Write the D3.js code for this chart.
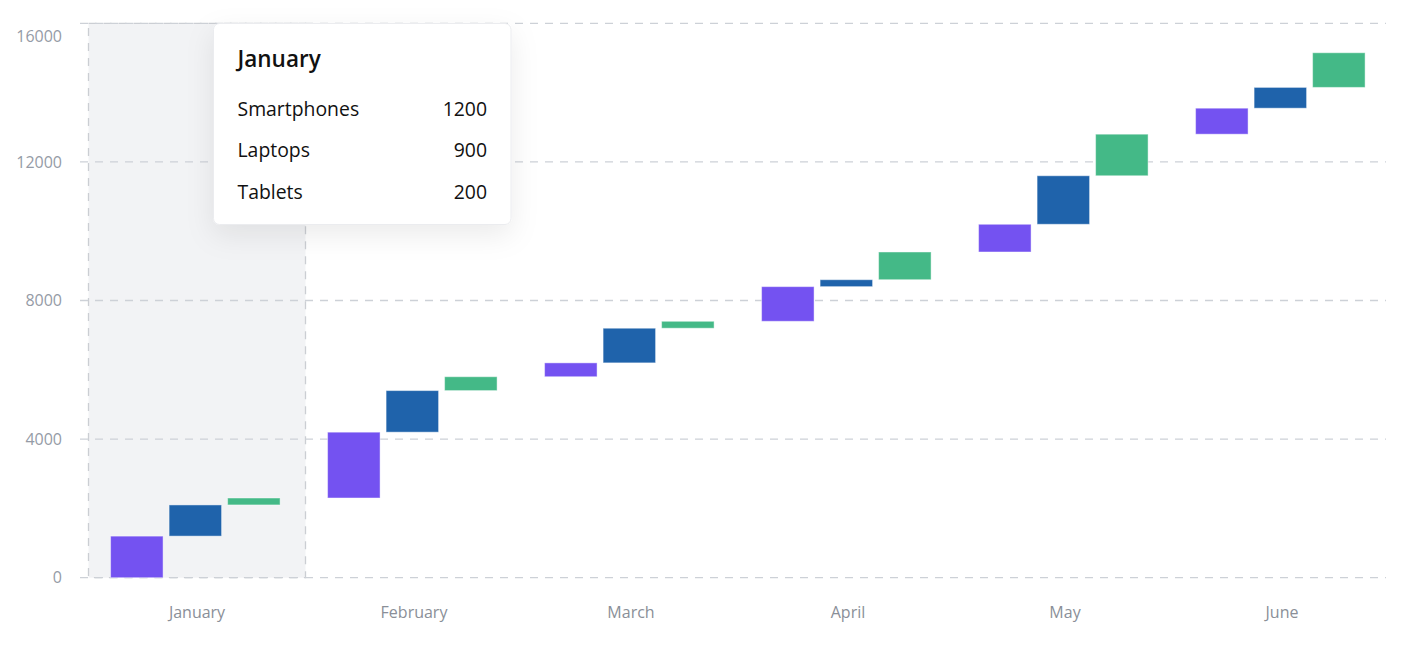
<!DOCTYPE html>
<html>
<head>
<meta charset="utf-8">
<script src="https://cdn.jsdelivr.net/npm/d3@7/dist/d3.min.js"></script>
<style>
  html, body { margin: 0; padding: 0; background: #fff; }
  svg { display: block; font-family: "Open Sans", "Noto Sans", sans-serif; }
</style>
</head>
<body>
<svg id="chart" width="1403" height="648"></svg>
<script>
// ---- data ----
const categories = ["January", "February", "March", "April", "May", "June"];
const seriesNames = ["Smartphones", "Laptops", "Tablets"];
const smartphones = [1200, 1900, 400, 1000, 800, 750];
const laptops = [900, 1200, 1000, 200, 1400, 600];
const tablets = [200, 400, 200, 800, 1200, 1000];
const yTicks = [0, 4000, 8000, 12000, 16000];
const colors = ["#7452F1", "#1F63AB", "#44B987"];
const tooltipMonth = "January";

// ---- build waterfall segments ----
const seriesValues = [smartphones, laptops, tablets];
const segments = [];
let running = 0;
categories.forEach((cat, i) => {
  seriesNames.forEach((s, j) => {
    const v = seriesValues[j][i];
    segments.push({ cat, series: s, idx: j, start: running, end: running + v, value: v });
    running += v;
  });
});

const svg = d3.select("#chart");

const x = d3.scaleBand().domain(categories).range([88.5, 1390.5]);
const xInner = d3.scaleBand().domain(seriesNames).range([0, x.bandwidth()])
  .paddingInner(0.103).paddingOuter(0.406).align(0.465);
const y = d3.scaleLinear().domain([0, 16000]).range([577.7, 23.3]);

const gridLeft = 80, gridRight = 1386;

// highlight band for hovered month
svg.append("rect")
  .attr("x", x(tooltipMonth))
  .attr("y", y(16000))
  .attr("width", x.bandwidth())
  .attr("height", y(0) - y(16000))
  .attr("fill", "#F2F3F5")
  .attr("stroke", "#CBCED3")
  .attr("stroke-width", 1.3)
  .attr("stroke-dasharray", "8 7");

// gridlines
svg.append("g").selectAll("line").data(yTicks).join("line")
  .attr("x1", gridLeft).attr("x2", gridRight)
  .attr("y1", d => y(d)).attr("y2", d => y(d))
  .attr("stroke", "#CDD1D7")
  .attr("stroke-width", 1.3)
  .attr("stroke-dasharray", "8 7");

// y axis
const yAxis = svg.append("g")
  .attr("transform", `translate(${gridLeft},0)`)
  .call(d3.axisLeft(y).tickValues(yTicks).tickSize(0).tickPadding(18).tickFormat(d3.format("d")));
yAxis.select(".domain").remove();
yAxis.selectAll("text")
  .attr("fill", "#959BA6")
  .style("font-size", "16px")
  .style("font-family", "'Open Sans', sans-serif");
yAxis.selectAll(".tick").filter(d => d === 16000).select("text").attr("dy", "1.15em");

// x axis
const xAxis = svg.append("g")
  .attr("transform", `translate(0,${y(0)})`)
  .call(d3.axisBottom(x).tickSize(0).tickPadding(29));
xAxis.select(".domain").remove();
xAxis.selectAll("text")
  .attr("fill", "#8A8F98")
  .style("font-size", "16px")
  .style("font-family", "'Open Sans', sans-serif");

// bars
svg.append("g").selectAll("rect").data(segments).join("rect")
  .attr("x", d => x(d.cat) + xInner(d.series))
  .attr("width", xInner.bandwidth())
  .attr("y", d => y(d.end))
  .attr("height", d => y(d.start) - y(d.end))
  .attr("fill", d => colors[d.idx])
  .attr("stroke", "#ffffff")
  .attr("stroke-opacity", 0.45)
  .attr("stroke-width", 1);

// tooltip
const defs = svg.append("defs");
const f = defs.append("filter").attr("id", "shadow")
  .attr("x", "-30%").attr("y", "-30%").attr("width", "160%").attr("height", "170%");
f.append("feDropShadow").attr("dx", 0).attr("dy", 10).attr("stdDeviation", 14)
  .attr("flood-color", "#000").attr("flood-opacity", 0.08);

const tip = svg.append("g").attr("transform", "translate(213.5,23.5)");
tip.append("rect")
  .attr("width", 297.5).attr("height", 201)
  .attr("rx", 6).attr("ry", 6)
  .attr("fill", "#fff")
  .attr("stroke", "#EBECEF")
  .attr("stroke-width", 1)
  .attr("filter", "url(#shadow)");

const ti = categories.indexOf(tooltipMonth);
tip.append("text")
  .attr("x", 24).attr("y", 43)
  .attr("fill", "#111")
  .style("font-size", "22.5px")
  .style("font-weight", 600)
  .text(tooltipMonth);

const rowBaselines = [92.5, 133.5, 175];
seriesNames.forEach((s, j) => {
  tip.append("text")
    .attr("x", 24).attr("y", rowBaselines[j])
    .attr("fill", "#111")
    .style("font-size", "19.4px")
    .text(s);
  tip.append("text")
    .attr("x", 273.5).attr("y", rowBaselines[j])
    .attr("text-anchor", "end")
    .attr("fill", "#111")
    .style("font-size", "19.4px")
    .text(seriesValues[j][ti]);
});
</script>
</body>
</html>
